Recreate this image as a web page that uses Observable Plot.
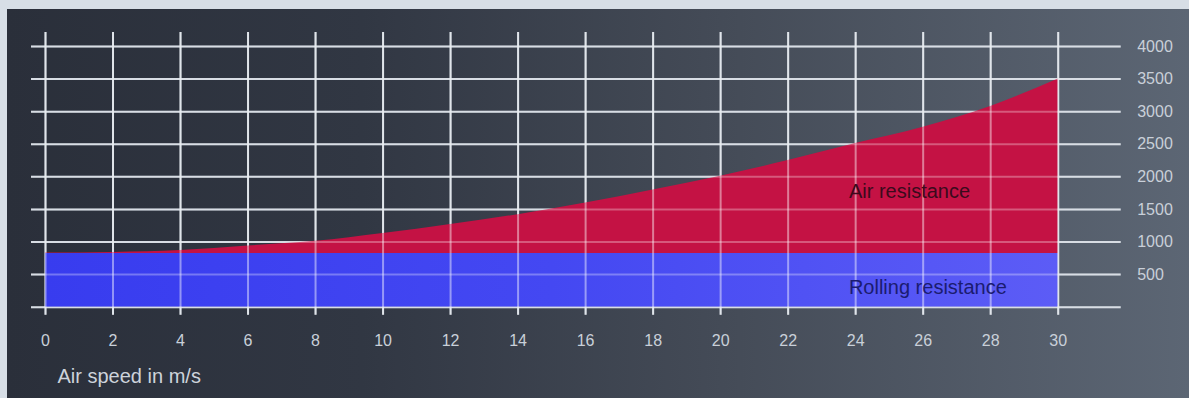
<!DOCTYPE html>
<html>
<head>
<meta charset="utf-8">
<script src="https://cdn.jsdelivr.net/npm/d3@7"></script>
<script src="https://cdn.jsdelivr.net/npm/@observablehq/plot@0.6"></script>
<style>
  html, body { margin: 0; padding: 0; background: #d7dee6; width: 1189px; height: 398px; overflow: hidden; }
  #panel {
    position: absolute; left: 7px; top: 9px; width: 1182px; height: 389px;
    background: linear-gradient(90deg, #2a2f3a 0%, #313743 30%, #454c58 62%, #5c6674 100%);
  }
  #panel svg { display: block; background: transparent; }
</style>
</head>
<body>
<div id="panel"></div>
<script>
// Air speed in m/s
const speeds = [0, 2, 4, 6, 8, 10, 12, 14, 16, 18, 20, 22, 24, 26, 28, 30];
// Rolling resistance (constant) and air resistance stacked on top of it
const rollingResistance = [825, 825, 825, 825, 825, 825, 825, 825, 825, 825, 825, 825, 825, 825, 825, 825];
const airResistance = [5, 15, 45, 115, 185, 305, 445, 595, 775, 975, 1185, 1425, 1685, 1935, 2255, 2675];

const xTicks = [0, 2, 4, 6, 8, 10, 12, 14, 16, 18, 20, 22, 24, 26, 28, 30];
const yTicks = [500, 1000, 1500, 2000, 2500, 3000, 3500, 4000];
const yGrid = [0, 500, 1000, 1500, 2000, 2500, 3000, 3500, 4000];

const seriesNames = ["Air resistance", "Rolling resistance"];
const labelSpeed = [23.8, 23.8];
const labelForce = [1775, 307];

const rows = speeds.map((s, i) => ({
  speed: s,
  rolling: rollingResistance[i],
  total: rollingResistance[i] + airResistance[i]
}));
const labels = seriesNames.map((name, i) => ({name, x: labelSpeed[i], y: labelForce[i]}));

const gridColor = "#c7cfd9";
const tickColor = "#c9d0d9";
const font = "'Liberation Sans', Arial, sans-serif";

const chart = Plot.plot({
  width: 1182,
  height: 389,
  marginLeft: 38,
  marginRight: 131.3,
  marginTop: 37,
  marginBottom: 91.3,
  style: {fontFamily: font, background: "transparent", overflow: "visible"},
  x: {domain: [0, 30]},
  y: {domain: [0, 4000]},
  marks: [
    // grid beneath the areas
    Plot.ruleX(xTicks, {x: d => d, stroke: gridColor, strokeWidth: 2, insetTop: -14, insetBottom: -8}),
    Plot.ruleY(yGrid, {y: d => d, stroke: gridColor, strokeWidth: 2, insetLeft: -14, insetRight: -63}),
    // rolling resistance band
    Plot.areaY(rows, {x: "speed", y1: 0, y2: "rolling", fill: "url(#rollFill)", curve: "monotone-x"}),
    // air resistance on top of rolling resistance
    Plot.areaY(rows, {x: "speed", y1: "rolling", y2: "total", fill: "#c41244", curve: "monotone-x"}),
    // grid showing through the areas
    Plot.ruleX(xTicks, {x: d => d, stroke: "#ffffff", strokeOpacity: 0.45, strokeWidth: 2, insetTop: -14, insetBottom: -8}),
    Plot.ruleY(yGrid, {y: d => d, stroke: "#ffffff", strokeOpacity: 0.3, strokeWidth: 2, insetLeft: -14, insetRight: -63}),
    Plot.axisX(xTicks, {tickSize: 0, tickPadding: 27, fontSize: 16, fill: tickColor, tickFormat: d => String(d), label: null}),
    Plot.axisY(yTicks, {anchor: "right", tickSize: 0, tickPadding: 79, fontSize: 16, fill: tickColor, textAnchor: "start", tickFormat: d => String(d), label: null}),
    Plot.text(labels.slice(0, 1), {x: "x", y: "y", text: "name", textAnchor: "start", fontSize: 20, fill: "#3b0a1c"}),
    Plot.text(labels.slice(1), {x: "x", y: "y", text: "name", textAnchor: "start", fontSize: 20, fill: "#1b1c70"}),
    Plot.text(["Air speed in m/s"], {frameAnchor: "bottom-left", dx: 12, dy: 69, lineAnchor: "middle", textAnchor: "start", fontSize: 20, fill: "#cdd3db"})
  ]
});

// horizontal gradient for the rolling resistance band
const ns = "http://www.w3.org/2000/svg";
const defs = document.createElementNS(ns, "defs");
const grad = document.createElementNS(ns, "linearGradient");
grad.setAttribute("id", "rollFill");
grad.setAttribute("x1", "0"); grad.setAttribute("x2", "1");
grad.setAttribute("y1", "0"); grad.setAttribute("y2", "0");
[["0", "#383cef"], ["0.5", "#4448f2"], ["1", "#5c5cf6"]].forEach(([o, c]) => {
  const stop = document.createElementNS(ns, "stop");
  stop.setAttribute("offset", o);
  stop.setAttribute("stop-color", c);
  grad.appendChild(stop);
});
defs.appendChild(grad);
chart.insertBefore(defs, chart.firstChild);

document.getElementById("panel").appendChild(chart);
</script>
</body>
</html>
